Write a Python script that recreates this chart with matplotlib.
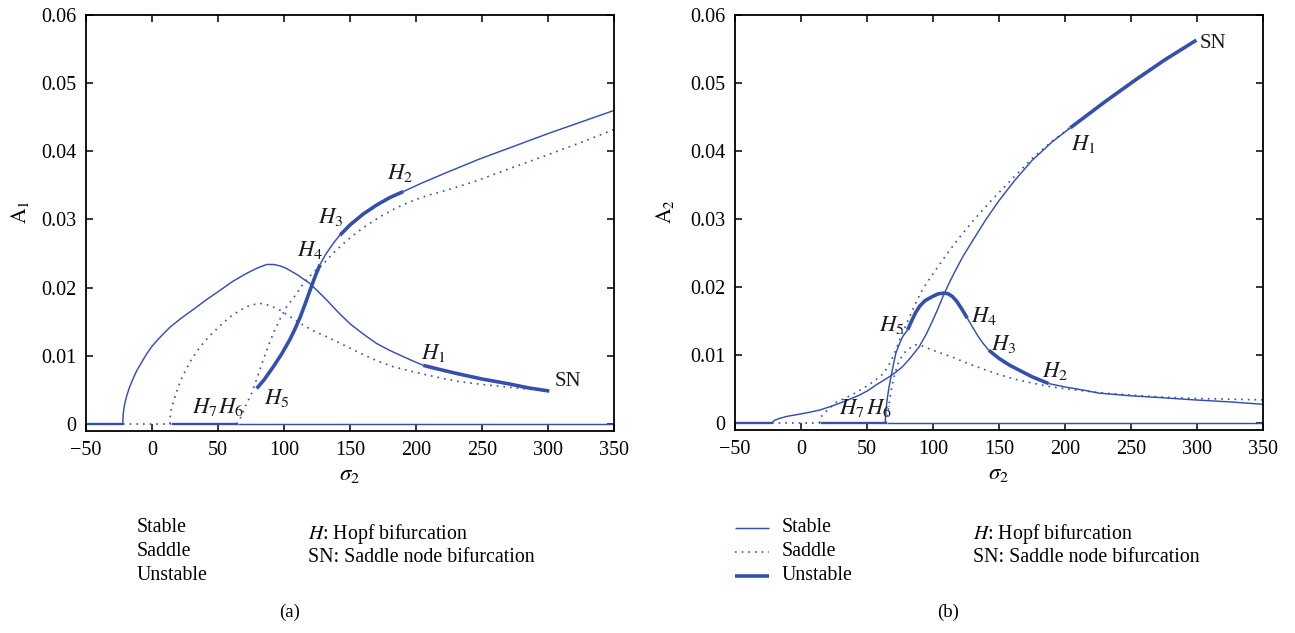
import matplotlib
matplotlib.use('Agg')
import matplotlib.pyplot as plt

plt.rcParams['font.family'] = ['Liberation Serif', 'DejaVu Serif']
plt.rcParams['mathtext.fontset'] = 'stix'

# ---------------- data: panel (a) ----------------
a_triv_stable_x = [-50, -22];  a_triv_stable_y = [0, 0]
a_triv_saddle_x = [-22, 15];   a_triv_saddle_y = [0, 0]
a_triv_mid_x = [15, 65];       a_triv_mid_y = [0, 0]
a_triv_stable2_x = [65, 350];  a_triv_stable2_y = [0, 0]

a_arch_stable_x = [-22.2, -21.8, -21, -20, -19.2, -17, -14, -11.6, -8, -4, 0, 5, 9, 13.6, 22, 31.3, 41,
                   51.5, 61, 71.7, 80, 86.9, 92, 97, 102, 110, 119.7, 126, 132.3, 141, 150, 160,
                   170.2, 180, 187.9, 197, 205.5]
a_arch_stable_y = [0, 0.0015, 0.0026, 0.0035, 0.0041, 0.0054, 0.0068, 0.0078, 0.0090, 0.0103, 0.0114,
                   0.0125, 0.0133, 0.0142, 0.0155, 0.0168, 0.0182, 0.0196, 0.0209, 0.0221, 0.0229,
                   0.0234, 0.0234, 0.0232, 0.0228, 0.0219, 0.0206, 0.0194, 0.0182, 0.0164, 0.0147,
                   0.0132, 0.0118, 0.0108, 0.0101, 0.0093, 0.0086]
a_arch_unstable_x = [205.5, 220, 233.3, 250, 270, 285, 301]
a_arch_unstable_y = [0.0086, 0.0079, 0.0073, 0.0066, 0.0059, 0.0053, 0.00483]

a_arch_saddle_x = [13.6, 13.8, 14.5, 15.5, 17.4, 20, 22.5, 25, 30, 36.4, 43, 51.5, 59, 66.7, 74, 81.8,
                   89, 97, 105, 114.6, 123, 132.3, 145, 157.6, 170, 182.8, 195, 208, 220, 233.3,
                   250, 270, 285, 301]
a_arch_saddle_y = [0, 0.0010, 0.0020, 0.0028, 0.0040, 0.0055, 0.0067, 0.0077, 0.0095, 0.0113, 0.0128,
                   0.0144, 0.0157, 0.0167, 0.0174, 0.0177, 0.0174, 0.0167, 0.0157, 0.0145, 0.0136,
                   0.0128, 0.0116, 0.0104, 0.0093, 0.0084, 0.0078, 0.0072, 0.0067, 0.0062, 0.0058,
                   0.0054, 0.0051, 0.00483]

a_steep_saddle_x = [64, 66, 68, 71, 75.5, 80, 84.3, 88, 91.9, 97, 102, 108.3, 114.6, 122, 129.8, 138,
                    147.5, 160, 172.7, 185, 198, 210, 223.2, 243.4, 270, 300, 325, 350]
a_steep_saddle_y = [0, 0.0005, 0.0013, 0.0027, 0.0045, 0.0070, 0.0094, 0.0114, 0.0133, 0.0154, 0.0172,
                    0.0188, 0.0206, 0.0222, 0.0235, 0.0252, 0.0269, 0.0288, 0.0304, 0.0317, 0.0328,
                    0.0336, 0.0343, 0.0355, 0.0374, 0.0395, 0.0413, 0.0432]

a_h5h4_x = [79.3, 85, 91.9, 98, 104.5, 108, 112.1, 116, 119.7, 123.5, 127.3]
a_h5h4_y = [0.0052, 0.0065, 0.0084, 0.0102, 0.0124, 0.0138, 0.0156, 0.0176, 0.0196, 0.0216, 0.0234]
a_h4h3_x = [127.3, 131, 134.8, 138.5, 142.4]
a_h4h3_y = [0.0234, 0.0247, 0.0258, 0.0268, 0.0277]
a_h3h2_x = [142.4, 150, 160, 170, 180, 190.4]
a_h3h2_y = [0.0277, 0.0292, 0.0308, 0.0321, 0.0332, 0.0341]
a_h2end_x = [190.4, 205, 223.3, 248.5, 275, 300, 325, 350]
a_h2end_y = [0.0341, 0.0354, 0.0369, 0.0389, 0.0408, 0.0426, 0.0443, 0.0460]

# ---------------- data: panel (b) ----------------
b_triv_stable_x = [-50, -22];  b_triv_stable_y = [0, 0]
b_triv_saddle_x = [-22, 15];   b_triv_saddle_y = [0, 0]
b_triv_mid_x = [15, 65];       b_triv_mid_y = [0, 0]
b_triv_stable2_x = [65, 350];  b_triv_stable2_y = [0, 0]

b_arch_stable_x = [-22.3, -20, -16, -10, -1, 7, 14.1, 22, 29.2, 37, 44.3, 51, 56.9, 62, 66.9, 72, 77,
                   83, 89.5, 95, 99.6, 103.5, 107.1, 112, 117.2, 123, 130, 140, 150, 162, 175, 190, 204]
b_arch_stable_y = [0, 0.0004, 0.0007, 0.0010, 0.0013, 0.0016, 0.0019, 0.0024, 0.0029, 0.0035, 0.0041,
                   0.0048, 0.0056, 0.0062, 0.0068, 0.0075, 0.0083, 0.0096, 0.0112, 0.0131, 0.0150,
                   0.0167, 0.0184, 0.0205, 0.0225, 0.0246, 0.0268, 0.0299, 0.0327, 0.0357, 0.0386,
                   0.0413, 0.0434]
b_arch_unstable_x = [204, 230, 253, 275.6, 299.5]
b_arch_unstable_y = [0.0434, 0.0472, 0.0504, 0.0534, 0.0563]

b_arch_saddle_x = [14, 14.5, 16, 19, 23, 27, 33, 40, 48, 55, 62, 66, 69.5, 72.5, 75.7, 80, 84.5, 88, 92,
                   97, 102, 110, 120, 132, 145, 160, 175, 190, 204, 230, 253, 275.6, 299.5]
b_arch_saddle_y = [0, 0.0006, 0.0011, 0.0017, 0.0024, 0.0031, 0.0036, 0.0043, 0.0052, 0.0061, 0.0072,
                   0.0083, 0.0097, 0.0111, 0.0127, 0.0146, 0.0166, 0.0181, 0.0196, 0.0211, 0.0225,
                   0.0247, 0.0273, 0.0301, 0.0329, 0.0359, 0.0389, 0.0414, 0.0435, 0.0473, 0.0505,
                   0.0535, 0.0563]

b_h6h5_x = [63.8, 64, 64.5, 65.6, 66.8, 68.2, 70, 71.9, 74.5, 77, 80.8]
b_h6h5_y = [0, 0.0009, 0.0022, 0.0039, 0.0054, 0.0068, 0.0086, 0.0103, 0.0116, 0.0127, 0.0137]
b_h5h4_x = [80.8, 84, 87, 90, 94, 99.6, 104, 108.4, 111.5, 114.7, 118, 122, 126]
b_h5h4_y = [0.0137, 0.0151, 0.0163, 0.0172, 0.0180, 0.0186, 0.0190, 0.0191, 0.0190, 0.0186, 0.0179,
            0.0167, 0.0154]
b_h4h3_x = [126, 130, 134, 138, 142.3]
b_h4h3_y = [0.0154, 0.0141, 0.0128, 0.0117, 0.0107]
b_h3h2_x = [142.3, 150, 158, 165, 175, 187.6]
b_h3h2_y = [0.0107, 0.0095, 0.0085, 0.0078, 0.0068, 0.0058]
b_h2end_x = [187.6, 200, 215, 225.3, 250, 275, 298, 325, 350]
b_h2end_y = [0.0058, 0.0053, 0.0048, 0.0044, 0.0040, 0.0037, 0.0034, 0.0031, 0.00275]

b_steep_saddle_x = [64.5, 65.5, 66.5, 67.5, 69, 71, 73.5, 77, 80, 84, 87, 91, 94.6, 100, 107, 114.7, 127,
                    139.8, 152, 165, 177, 190, 210, 230, 250, 275, 300, 325, 350]
b_steep_saddle_y = [0, 0.0012, 0.0025, 0.0038, 0.0055, 0.0072, 0.0087, 0.0100, 0.0107, 0.0112, 0.0115,
                    0.0114, 0.0111, 0.0107, 0.0102, 0.0097, 0.0087, 0.0078, 0.0070, 0.0063, 0.0058,
                    0.0053, 0.0048, 0.0044, 0.0041, 0.0038, 0.0036, 0.0035, 0.0034]

x_ticks = [-50, 0, 50, 100, 150, 200, 250, 300, 350]
y_ticks = [0, 0.01, 0.02, 0.03, 0.04, 0.05, 0.06]
y_tick_labels = ['0', '0.01', '0.02', '0.03', '0.04', '0.05', '0.06']

a_labels = [('$H_1$', 204, 0.0096), ('$H_2$', 177.8, 0.0360), ('$H_3$', 126, 0.0295),
            ('$H_4$', 109.6, 0.0247), ('$H_5$', 84.8, 0.0030), ('$H_7$', 30, 0.00166),
            ('$H_6$', 50.2, 0.00166), ('SN', 305.3, 0.0055)]
b_labels = [('$H_1$', 204.7, 0.0402), ('$H_2$', 182.5, 0.0068), ('$H_3$', 143.6, 0.0107),
            ('$H_4$', 128.5, 0.0149), ('$H_5$', 59.4, 0.0135), ('$H_7$', 28.7, 0.0013),
            ('$H_6$', 49.3, 0.0013), ('SN', 302, 0.0551)]

# ---------------- drawing ----------------
C = '#3450ae'
W, H = 1295, 633
fig = plt.figure(figsize=(12.95, 6.33), dpi=100)


def fx(px):
    return px / W


def fy(py):
    return 1 - py / H


axA = fig.add_axes([fx(86), fy(431), fx(614) - fx(86), fy(15) - fy(431)])
axB = fig.add_axes([fx(735), fy(430), fx(1263) - fx(735), fy(15) - fy(430)])

STABLE = dict(color=C, lw=1.05, solid_capstyle='butt')
SADDLE = dict(color=C, lw=1.2, linestyle=(0, (1, 3)))
UNSTABLE = dict(color=C, lw=2.6, solid_capstyle='butt')
MID = dict(color=C, lw=1.7, solid_capstyle='butt')


def style(ax, ylab, lab_x):
    ax.set_xlim(-50, 350)
    ax.set_ylim(-0.00103, 0.06)
    ax.set_xticks(x_ticks)
    ax.set_xticklabels([('\u2212%d' % -t) if t < 0 else str(t) for t in x_ticks])
    ax.set_yticks(y_ticks)
    ax.set_yticklabels(y_tick_labels)
    ax.tick_params(direction='in', top=True, right=True, length=5, width=1.1,
                   labelsize=14.5, pad=7)
    for s in ax.spines.values():
        s.set_linewidth(1.3)
    ax.set_xlabel(r'$\sigma_2$', fontsize=16.5)
    ax.xaxis.set_label_coords(0.5, -0.105)
    ax.xaxis.label.set_va('center')
    ax.set_ylabel(ylab, fontsize=15.5)
    ax.yaxis.set_label_coords(lab_x, 0.526)
    ax.yaxis.label.set_va('center')


# panel a
axA.plot(a_triv_stable_x, a_triv_stable_y, **MID)
axA.plot(a_triv_saddle_x, a_triv_saddle_y, **SADDLE)
axA.plot(a_triv_mid_x, a_triv_mid_y, **MID)
axA.plot(a_triv_stable2_x, a_triv_stable2_y, **STABLE)
axA.plot(a_arch_stable_x, a_arch_stable_y, **STABLE)
axA.plot(a_arch_unstable_x, a_arch_unstable_y, **UNSTABLE)
axA.plot(a_arch_saddle_x, a_arch_saddle_y, **SADDLE)
axA.plot(a_steep_saddle_x, a_steep_saddle_y, **SADDLE)
axA.plot(a_h5h4_x, a_h5h4_y, **UNSTABLE)
axA.plot(a_h4h3_x, a_h4h3_y, **STABLE)
axA.plot(a_h3h2_x, a_h3h2_y, **UNSTABLE)
axA.plot(a_h2end_x, a_h2end_y, **STABLE)

# panel b
axB.plot(b_triv_stable_x, b_triv_stable_y, **MID)
axB.plot(b_triv_saddle_x, b_triv_saddle_y, **SADDLE)
axB.plot(b_triv_mid_x, b_triv_mid_y, **MID)
axB.plot(b_triv_stable2_x, b_triv_stable2_y, **STABLE)
axB.plot(b_arch_stable_x, b_arch_stable_y, **STABLE)
axB.plot(b_arch_unstable_x, b_arch_unstable_y, **UNSTABLE)
axB.plot(b_arch_saddle_x, b_arch_saddle_y, **SADDLE)
axB.plot(b_steep_saddle_x, b_steep_saddle_y, **SADDLE)
axB.plot(b_h6h5_x, b_h6h5_y, **STABLE)
axB.plot(b_h5h4_x, b_h5h4_y, **UNSTABLE)
axB.plot(b_h4h3_x, b_h4h3_y, **STABLE)
axB.plot(b_h3h2_x, b_h3h2_y, **UNSTABLE)
axB.plot(b_h2end_x, b_h2end_y, **STABLE)

style(axA, r'$\mathrm{A}_1$', -0.125)
style(axB, r'$\mathrm{A}_2$', -0.133)

for ax, labs in ((axA, a_labels), (axB, b_labels)):
    for t, x, y in labs:
        ax.text(x, y, t, fontsize=16.5 if t != 'SN' else 15, ha='left', va='baseline',
                color='#1a1a1a')

# legends and notes (figure-level)
names = ['Stable', 'Saddle', 'Unstable']
styles = [STABLE, SADDLE, UNSTABLE]
for base_x, text_x, note_x, panel, pan_x, draw_lines in (
        (86, 137, 308, '(a)', 290, False), (735, 782, 973, '(b)', 948, True)):
    for i, (nm, st) in enumerate(zip(names, styles)):
        yy = [528, 552, 576][i]
        if draw_lines:
            fig.add_artist(plt.Line2D([fx(base_x), fx(base_x + 34)], [fy(yy), fy(yy)],
                                      transform=fig.transFigure, **st))
        fig.text(fx(text_x), fy(yy), nm, fontsize=14.3, ha='left', va='center')
    fig.text(fx(note_x), fy(534), r'$H$: Hopf bifurcation', fontsize=14.3, ha='left', va='center')
    fig.text(fx(note_x), fy(557), 'SN: Saddle node bifurcation', fontsize=14.3, ha='left', va='center')
    fig.text(fx(pan_x), fy(612), panel, fontsize=13.5, ha='center', va='center')

fig.savefig('out.png', dpi=100)
